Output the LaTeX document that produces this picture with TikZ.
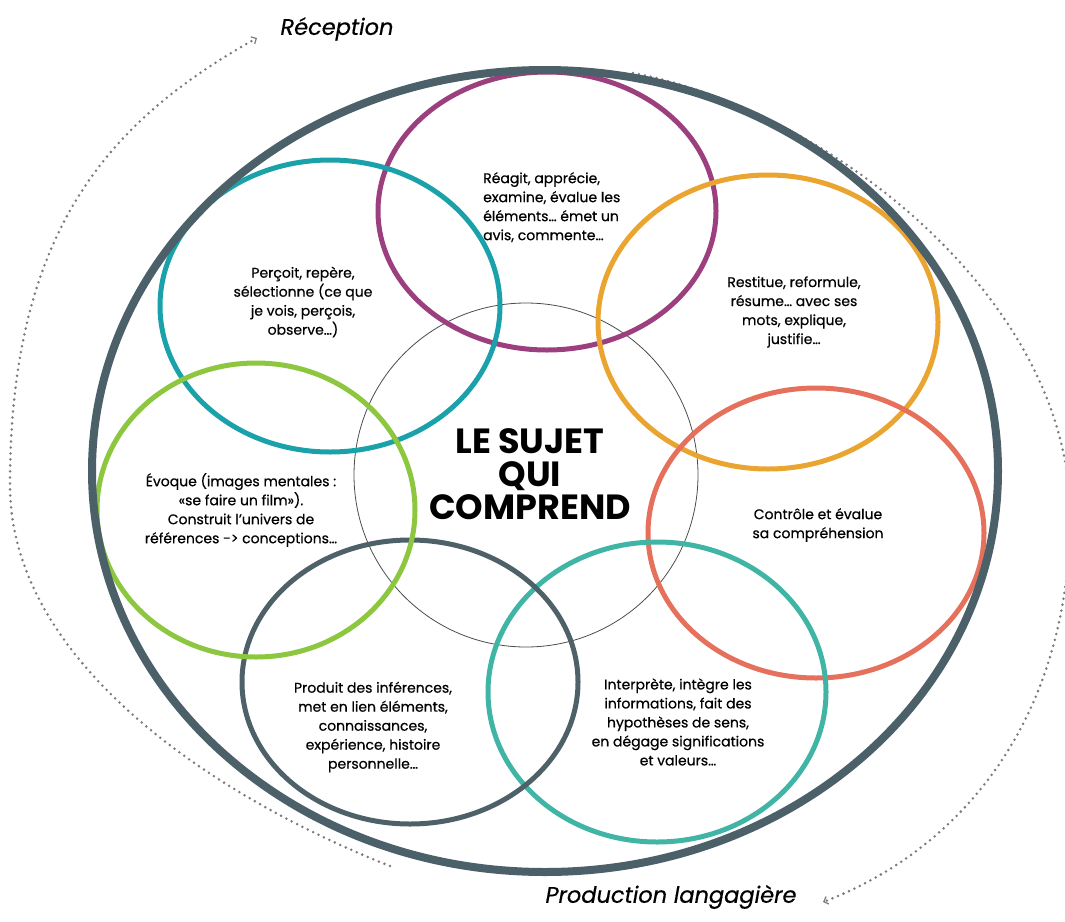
\documentclass[tikz,border=0pt]{standalone}
\usepackage{fontspec}
\setmainfont{Poppins}[UprightFeatures={FakeBold=0.5},ItalicFeatures={FakeBold=0.5}]
\usetikzlibrary{shapes.geometric,arrows.meta}
\definecolor{outerc}{HTML}{4B6069}
\definecolor{purplec}{HTML}{9C3F7F}
\definecolor{tealc}{HTML}{1BA1A9}
\definecolor{orangec}{HTML}{EAA530}
\definecolor{coralc}{HTML}{E5705C}
\definecolor{seac}{HTML}{40B5A5}
\definecolor{darkc}{HTML}{4E6169}
\definecolor{greenc}{HTML}{8DC63F}
\definecolor{dotc}{HTML}{7A7A7A}
\begin{document}
\begin{tikzpicture}[x=1pt,y=-1pt,
  ring/.style={draw, ellipse, line width=5pt, inner sep=0pt},
  txt/.style={align=center, font=\fontsize{14}{19}\selectfont, text=black, inner sep=0pt},
  ltxt/.style={align=left, font=\fontsize{14}{19}\selectfont, text=black, inner sep=0pt},
  flow/.style={draw=dotc, line width=2.8pt, line cap=round, dash pattern=on 0pt off 6pt,
    -{Straight Barb[length=4pt,width=8pt,line width=1.2pt]}},
  lab/.style={font=\fontsize{22.5}{26}\selectfont\itshape, text=black, inner sep=0pt},
]
\useasboundingbox (0,0) rectangle (1065,921);
% dotted flows
\coordinate (lA) at (390,866);
\coordinate (lB) at (10,485);
\coordinate (lC) at (257,38);
\coordinate (rA) at (633,73);
\coordinate (rB) at (1070,515);
\coordinate (rC) at (823,902);
\draw[flow] (lA) .. controls (210,795) and (10,660) .. (lB)
  .. controls (10,230) and (110,120) .. (lC);
\draw[flow] (rA) .. controls (830,110) and (1070,300) .. (rB)
  .. controls (1070,720) and (960,850) .. (rC);
\node[lab] (rec) at (337,29) {Réception};
\node[lab] (prod) at (671,897) {Production langagière};
% centre
\node[draw=black!70, line width=0.8pt, circle, minimum size=344pt, inner sep=0pt] (centre) at (526,475) {};
% rings
\node[ring, draw=purplec, minimum width=338pt, minimum height=278pt] (reagit) at (547,211) {};
\node[ring, draw=tealc, minimum width=340pt, minimum height=292pt] (percoit) at (330,306) {};
\node[ring, draw=orangec, minimum width=340pt, minimum height=294pt] (restitue) at (768,322) {};
\node[ring, draw=coralc, minimum width=336pt, minimum height=290pt] (controle) at (816,533) {};
\node[ring, draw=seac, minimum width=338pt, minimum height=300pt] (interprete) at (657,692) {};
\node[ring, draw=darkc, minimum width=336pt, minimum height=284pt] (produit) at (410,682) {};
\node[ring, draw=greenc, minimum width=318pt, minimum height=294pt] (evoque) at (256,510) {};
\node[draw=outerc, ellipse, line width=8pt, inner sep=0pt, minimum width=906pt, minimum height=802pt] (outer) at (545,471) {};
% texts
\node[ltxt, anchor=north west] (t1) at (483,172) {Réagit, apprécie,\\examine, évalue les\\éléments… émet un\\avis, commente…};
\node[txt] (t2) at (303,302) {Perçoit, repère,\\sélectionne (ce que\\je vois, perçois,\\observe…)};
\node[txt] (t3) at (794,312) {Restitue, reformule,\\résume… avec ses\\mots, explique,\\justifie…};
\node[txt] (t4) at (818,525) {Contrôle et évalue\\sa compréhension};
\node[txt] (t5) at (241,510) {Évoque (images mentales :\\«se faire un film»).\\Construit l’univers de\\références -> conceptions…};
\node[txt] (t6) at (373,727) {Produit des inférences,\\met en lien éléments,\\connaissances,\\expérience, histoire\\personnelle…};
\node[txt] (t7) at (678,722) {Interprète, intègre les\\informations, fait des\\hypothèses de sens,\\en dégage significations\\et valeurs…};
\node[align=center, font=\fontsize{35}{33}\selectfont\bfseries, inner sep=0pt] (title) at (530,474) {LE SUJET\\QUI\\COMPREND};
\end{tikzpicture}
\end{document}
